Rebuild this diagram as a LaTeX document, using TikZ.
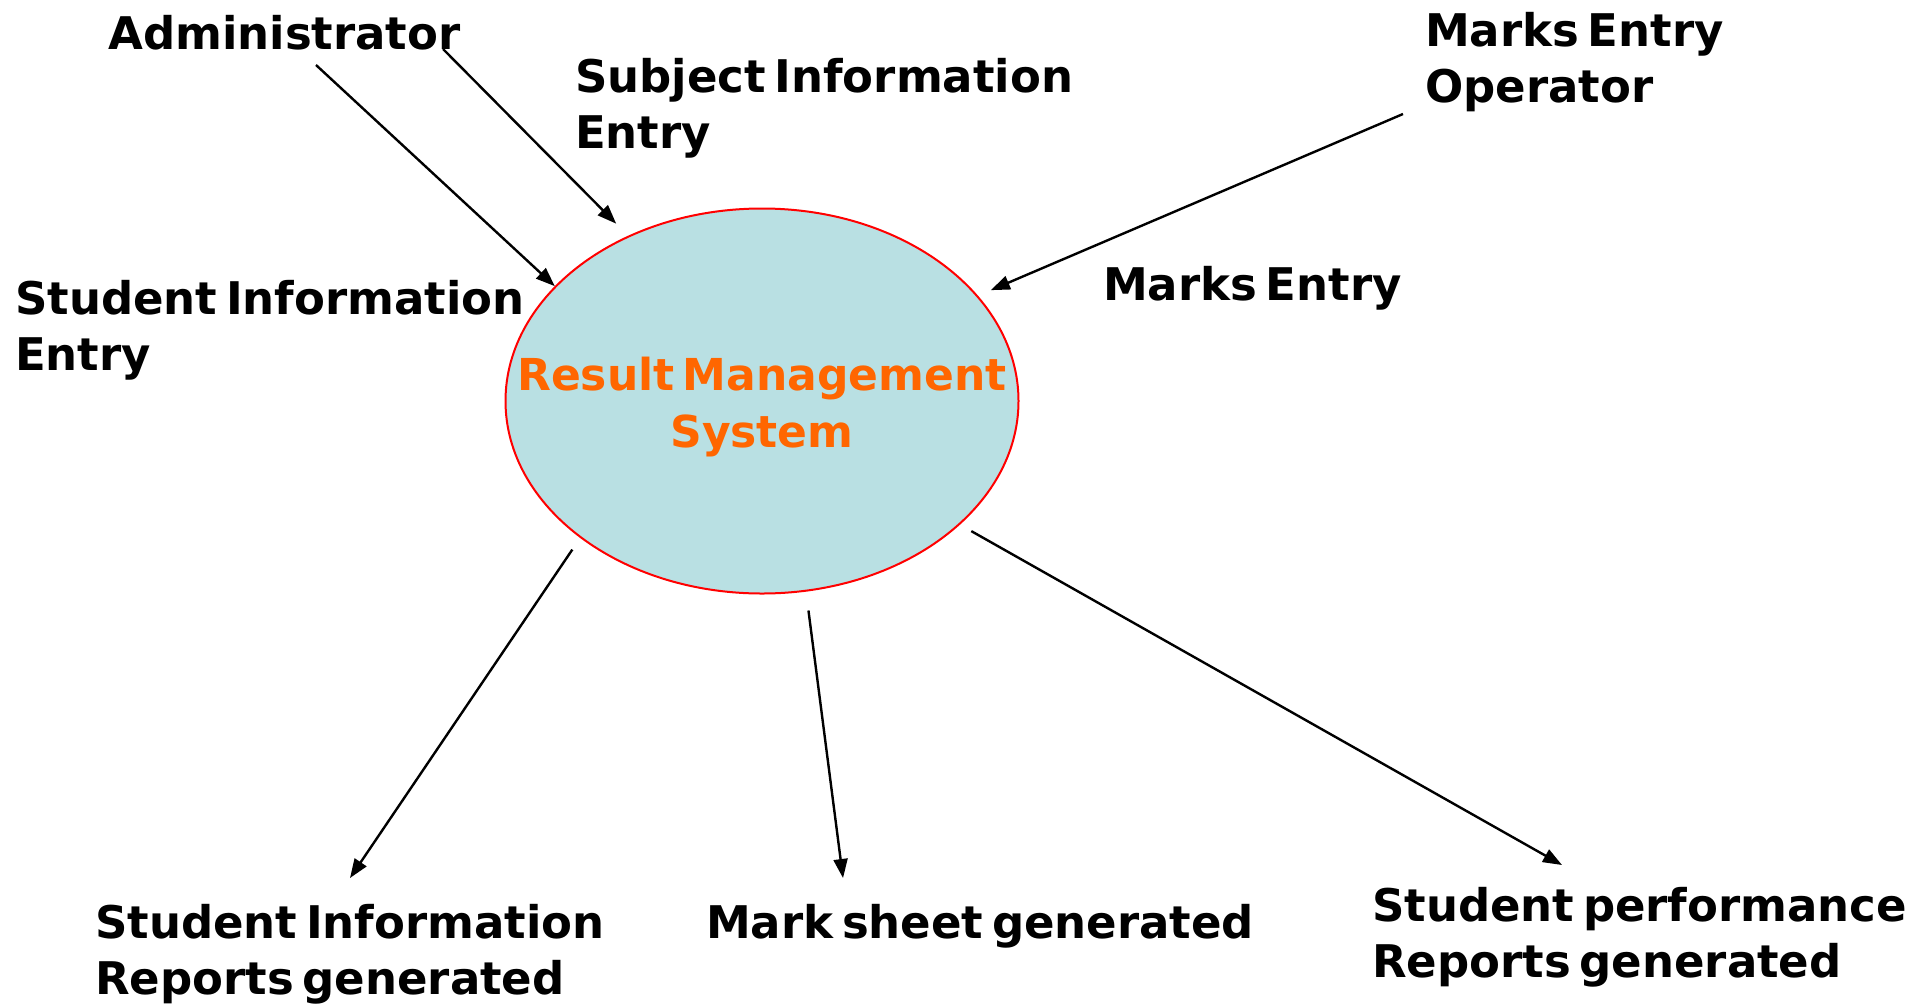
\documentclass[tikz,border=0pt]{standalone}
\usepackage{fontspec}
\setmainfont{DejaVu Sans}[WordSpace=0.55]
\usetikzlibrary{shapes.geometric,arrows.meta}
\definecolor{sysblue}{HTML}{B9E0E3}
\definecolor{sysorange}{HTML}{FF6600}
\begin{document}
\begin{tikzpicture}[x=1pt,y=-1pt,
  lbl/.style={font=\fontsize{45}{56}\selectfont\bfseries, inner sep=0pt, align=left, anchor=base west},
  flow/.style={line width=2.4pt, -{Triangle[length=19pt,width=14pt]}}]
\useasboundingbox[fill=white] (0,0) rectangle (1918,1007);
\node[ellipse, draw=red, line width=2pt, fill=sysblue, minimum width=513pt, minimum height=385pt, inner sep=0pt] (sys) at (762,401) {};
\node[font=\fontsize{44}{57}\selectfont\bfseries, text=sysorange, align=center, anchor=base, inner sep=0pt] (syslbl) at (762,447) {Result Management\\System};
\node[lbl] (admin) at (108,49) {Administrator};
\node[lbl] (subj) at (575,148) {Subject Information\\Entry};
\node[lbl] (meop) at (1425,102) {Marks Entry\\Operator};
\node[lbl] (meflow) at (1103,300) {Marks Entry};
\node[lbl] (sie) at (15,370) {Student Information\\Entry};
\node[lbl] (sir) at (95,994) {Student Information\\Reports generated};
\node[lbl] (msg) at (706,938) {Mark sheet generated};
\node[lbl] (spr) at (1372,977) {Student performance\\Reports generated};
\coordinate (a1) at (316,65);
\coordinate (a2) at (443,49);
\coordinate (a3) at (1403,114);
\coordinate (a4) at (350,878);
\coordinate (a5) at (843,878);
\coordinate (a6) at (1562,865);
\draw[flow] (a1) -- (sys.151.4);
\draw[flow, shorten >=17pt] (a2) -- (sys.129.1);
\draw[flow, shorten >=14pt] (a3) -- (sys.26.4);
\draw[flow, shorten <=14pt] (sys.217.1) -- (a4);
\draw[flow, shorten <=19pt] (sys.283.3) -- (a5);
\draw[flow, shorten <=13pt] (sys.328.3) -- (a6);
\end{tikzpicture}
\end{document}
